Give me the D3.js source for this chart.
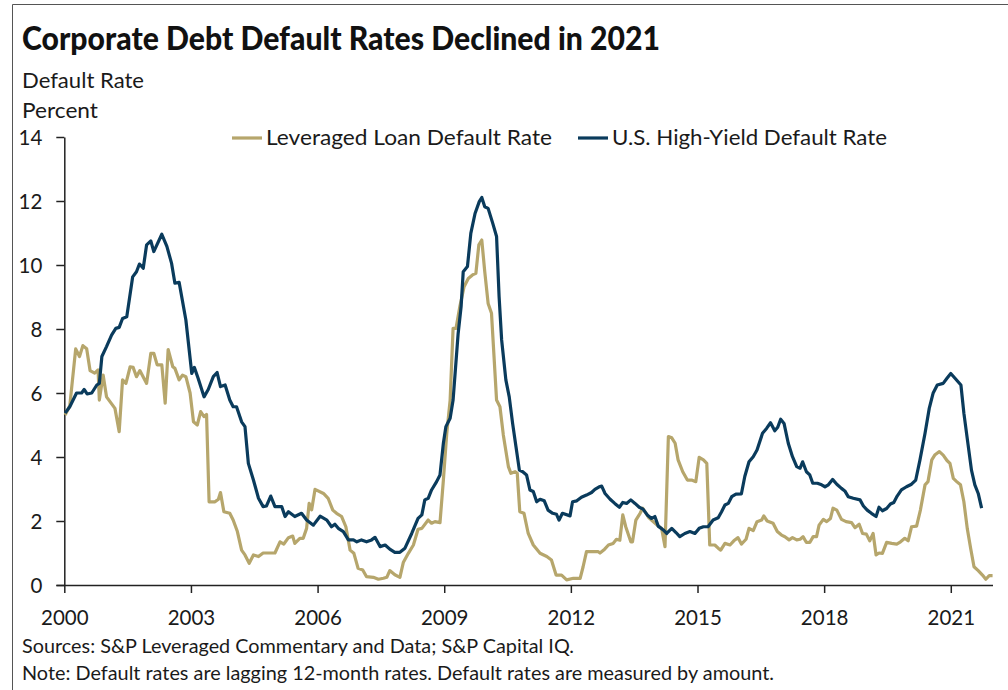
<!DOCTYPE html>
<html>
<head>
<meta charset="utf-8">
<script src="https://cdn.jsdelivr.net/npm/d3@7"></script>
<style>
  html, body { margin: 0; padding: 0; background: #fff; }
  svg { display: block; font-family: Lato, "Open Sans", sans-serif; }
</style>
</head>
<body>
<svg id="chart" width="1008" height="690"></svg>
<script>
// ---- data ----
const titleText = "Corporate Debt Default Rates Declined in 2021";
const yTitle1 = "Default Rate";
const yTitle2 = "Percent";
const seriesNames = ["Leveraged Loan Default Rate", "U.S. High-Yield Default Rate"];
const xTickYears = [2000, 2003, 2006, 2009, 2012, 2015, 2018, 2021];
const yTickValues = [0, 2, 4, 6, 8, 10, 12, 14];
const sourceNote = "Sources: S&P Leveraged Commentary and Data; S&P Capital IQ.";
const methodNote = "Note: Default rates are lagging 12-month rates. Default rates are measured by amount.";

// [decimal year, percent]
const leveragedLoan = [
  [2000.02,5.31],[2000.13,5.6],[2000.27,7.38],[2000.36,7.14],[2000.44,7.48],[2000.53,7.38],[2000.61,6.7],
  [2000.72,6.62],[2000.80,6.72],[2000.83,5.78],[2000.92,6.56],[2001.00,5.88],[2001.20,5.52],[2001.30,4.79],
  [2001.38,6.41],[2001.46,6.3],[2001.56,6.82],[2001.63,6.8],[2001.71,6.51],[2001.79,6.7],[2001.95,6.3],
  [2002.05,7.24],[2002.12,7.24],[2002.20,6.88],[2002.31,6.88],[2002.39,5.68],[2002.46,7.36],[2002.57,6.82],
  [2002.62,6.77],[2002.72,6.41],[2002.80,6.56],[2002.88,6.51],[2002.98,6.0],[2003.06,5.1],[2003.15,5.0],
  [2003.23,5.42],[2003.31,5.26],[2003.37,5.33],[2003.43,2.6],[2003.57,2.6],[2003.65,2.68],[2003.70,2.89],
  [2003.78,2.29],[2003.92,2.24],[2004.00,2.03],[2004.10,1.67],[2004.20,1.09],[2004.28,0.94],[2004.38,0.68],
  [2004.48,0.94],[2004.60,0.89],[2004.71,1.0],[2004.99,1.0],[2005.11,1.35],[2005.20,1.28],[2005.31,1.48],
  [2005.41,1.53],[2005.46,1.3],[2005.58,1.46],[2005.66,1.46],[2005.74,1.77],[2005.80,2.55],[2005.86,2.35],
  [2005.94,2.99],[2006.14,2.86],[2006.25,2.71],[2006.36,2.34],[2006.45,2.24],[2006.57,2.14],[2006.67,1.82],
  [2006.77,1.09],[2006.86,0.99],[2006.96,0.52],[2007.07,0.47],[2007.16,0.26],[2007.32,0.24],[2007.44,0.18],
  [2007.56,0.21],[2007.64,0.24],[2007.71,0.45],[2007.83,0.32],[2007.95,0.24],[2008.03,0.7],[2008.15,0.99],
  [2008.27,1.25],[2008.38,1.74],[2008.47,1.77],[2008.62,2.03],[2008.70,1.93],[2008.78,1.98],[2008.90,1.95],
  [2008.98,3.28],[2009.06,4.74],[2009.14,5.78],[2009.21,8.02],[2009.28,8.02],[2009.37,8.7],[2009.47,9.32],
  [2009.57,9.58],[2009.67,9.69],[2009.75,9.74],[2009.82,10.63],[2009.89,10.78],[2009.96,9.79],[2010.04,8.8],
  [2010.12,8.49],[2010.24,5.78],[2010.32,5.57],[2010.40,4.69],[2010.52,3.7],[2010.58,3.49],[2010.68,3.54],
  [2010.73,3.49],[2010.79,2.29],[2010.89,2.24],[2010.99,1.61],[2011.11,1.25],[2011.27,0.99],[2011.43,0.89],
  [2011.54,0.78],[2011.65,0.31],[2011.78,0.31],[2011.90,0.16],[2012.06,0.21],[2012.22,0.21],[2012.29,0.57],
  [2012.37,1.04],[2012.49,1.04],[2012.65,1.04],[2012.69,1.0],[2012.80,1.12],[2012.89,1.25],[2013.00,1.30],
  [2013.08,1.43],[2013.16,1.40],[2013.23,2.19],[2013.30,1.82],[2013.42,1.35],[2013.46,1.35],[2013.54,2.03],
  [2013.64,2.24],[2013.70,2.40],[2013.85,2.1],[2014.07,1.84],[2014.15,1.77],[2014.23,1.2],[2014.31,4.64],
  [2014.39,4.6],[2014.47,4.43],[2014.54,3.91],[2014.65,3.54],[2014.76,3.28],[2014.86,3.28],[2014.96,3.23],
  [2015.04,3.99],[2015.14,3.91],[2015.22,3.8],[2015.29,1.25],[2015.41,1.25],[2015.49,1.15],[2015.55,1.09],
  [2015.65,1.3],[2015.77,1.25],[2015.86,1.38],[2015.96,1.48],[2016.04,1.28],[2016.15,1.43],[2016.22,1.77],
  [2016.32,1.7],[2016.41,1.98],[2016.52,2.03],[2016.57,2.16],[2016.65,2.0],[2016.79,1.93],[2016.89,1.67],
  [2016.99,1.56],[2017.07,1.51],[2017.17,1.41],[2017.25,1.48],[2017.35,1.41],[2017.43,1.43],[2017.50,1.51],
  [2017.58,1.33],[2017.66,1.33],[2017.74,1.51],[2017.82,1.51],[2017.88,1.87],[2017.98,2.05],[2018.06,1.98],
  [2018.15,2.08],[2018.21,2.40],[2018.30,2.34],[2018.41,2.05],[2018.52,1.98],[2018.65,1.95],[2018.73,1.79],
  [2018.83,1.90],[2018.91,1.61],[2019.00,1.59],[2019.08,1.38],[2019.16,1.61],[2019.23,0.94],[2019.30,1.0],
  [2019.38,0.99],[2019.48,1.33],[2019.60,1.30],[2019.72,1.28],[2019.81,1.35],[2019.91,1.46],[2019.99,1.38],
  [2020.07,1.82],[2020.19,1.84],[2020.28,2.34],[2020.39,3.13],[2020.46,3.23],[2020.55,3.91],[2020.62,4.06],
  [2020.73,4.17],[2020.82,4.06],[2020.91,3.89],[2020.98,3.80],[2021.06,3.33],[2021.14,3.23],[2021.23,3.13],
  [2021.31,2.60],[2021.39,1.77],[2021.47,1.15],[2021.55,0.57],[2021.65,0.45],[2021.75,0.31],[2021.83,0.18],
  [2021.91,0.29],[2021.99,0.29]
];

const highYield = [
  [2000.02,5.37],[2000.13,5.57],[2000.29,6.0],[2000.41,6.0],[2000.47,6.11],[2000.54,5.97],[2000.65,6.0],
  [2000.77,6.25],[2000.83,6.3],[2000.89,7.14],[2001.00,7.45],[2001.12,7.81],[2001.22,8.02],[2001.30,8.05],
  [2001.38,8.33],[2001.48,8.38],[2001.62,9.63],[2001.71,9.79],[2001.78,10.03],[2001.87,9.9],[2001.95,10.63],
  [2002.05,10.75],[2002.12,10.42],[2002.31,10.96],[2002.43,10.58],[2002.54,10.06],[2002.62,9.43],[2002.72,9.46],
  [2002.88,8.28],[2003.02,6.61],[2003.08,6.8],[2003.17,6.46],[2003.31,5.88],[2003.41,6.11],[2003.53,6.51],
  [2003.62,6.64],[2003.70,6.2],[2003.81,6.25],[2003.92,5.78],[2004.00,5.57],[2004.08,5.57],[2004.20,5.1],
  [2004.28,4.95],[2004.36,3.8],[2004.48,3.28],[2004.60,2.71],[2004.71,2.45],[2004.79,2.47],[2004.89,2.78],
  [2004.99,2.45],[2005.15,2.45],[2005.23,2.14],[2005.31,2.29],[2005.46,2.14],[2005.62,2.24],[2005.74,2.03],
  [2005.90,1.87],[2006.06,2.15],[2006.22,2.03],[2006.33,1.82],[2006.41,1.9],[2006.49,1.77],[2006.61,1.67],
  [2006.73,1.41],[2006.85,1.41],[2006.93,1.35],[2007.04,1.41],[2007.16,1.35],[2007.28,1.41],[2007.36,1.49],
  [2007.48,1.2],[2007.60,1.25],[2007.71,1.12],[2007.83,1.02],[2007.95,1.02],[2008.07,1.15],[2008.23,1.61],
  [2008.38,2.08],[2008.47,2.19],[2008.54,2.66],[2008.62,2.71],[2008.70,2.97],[2008.82,3.23],[2008.90,3.44],
  [2008.98,4.43],[2009.04,4.95],[2009.14,5.21],[2009.21,5.78],[2009.33,7.86],[2009.40,8.7],[2009.45,9.79],
  [2009.55,9.95],[2009.63,10.99],[2009.73,11.61],[2009.83,11.98],[2009.89,12.11],[2009.96,11.82],[2010.04,11.77],
  [2010.15,11.3],[2010.24,10.89],[2010.30,9.01],[2010.36,7.66],[2010.46,6.41],[2010.54,5.88],[2010.62,5.05],
  [2010.70,4.32],[2010.78,3.59],[2010.86,3.54],[2010.95,3.44],[2011.03,2.97],[2011.11,2.92],[2011.19,2.6],
  [2011.27,2.68],[2011.37,2.63],[2011.46,2.34],[2011.57,2.24],[2011.66,2.21],[2011.72,2.03],[2011.80,2.24],
  [2011.98,2.16],[2012.04,2.6],[2012.14,2.63],[2012.25,2.74],[2012.37,2.81],[2012.49,2.89],[2012.57,2.99],
  [2012.67,3.07],[2012.73,3.09],[2012.81,2.86],[2012.93,2.68],[2013.04,2.55],[2013.15,2.43],[2013.23,2.58],
  [2013.32,2.55],[2013.42,2.66],[2013.52,2.55],[2013.62,2.43],[2013.71,2.37],[2013.81,2.19],[2013.91,2.08],
  [2013.99,2.14],[2014.07,1.84],[2014.19,1.72],[2014.27,1.61],[2014.39,1.77],[2014.49,1.64],[2014.58,1.51],
  [2014.70,1.61],[2014.82,1.67],[2014.94,1.61],[2015.04,1.77],[2015.14,1.82],[2015.25,1.82],[2015.37,2.03],
  [2015.49,2.1],[2015.57,2.29],[2015.65,2.5],[2015.73,2.55],[2015.81,2.76],[2015.91,2.84],[2016.04,2.85],
  [2016.12,3.39],[2016.22,3.85],[2016.32,4.01],[2016.41,4.22],[2016.54,4.74],[2016.64,4.9],[2016.73,5.07],
  [2016.83,4.82],[2016.90,4.93],[2016.97,5.18],[2017.05,5.05],[2017.15,4.43],[2017.25,4.01],[2017.35,3.7],
  [2017.43,3.65],[2017.49,3.85],[2017.58,3.54],[2017.66,3.44],[2017.73,3.18],[2017.84,3.18],[2017.94,3.13],
  [2018.02,3.07],[2018.10,3.13],[2018.20,3.3],[2018.30,3.15],[2018.41,3.02],[2018.49,2.94],[2018.57,2.76],
  [2018.69,2.71],[2018.85,2.66],[2018.93,2.47],[2019.02,2.34],[2019.12,2.24],[2019.23,2.14],[2019.30,2.43],
  [2019.38,2.32],[2019.48,2.39],[2019.57,2.53],[2019.65,2.58],[2019.73,2.78],[2019.83,2.97],[2019.95,3.07],
  [2020.07,3.15],[2020.17,3.28],[2020.27,3.91],[2020.39,4.74],[2020.49,5.52],[2020.58,5.99],[2020.68,6.25],
  [2020.82,6.3],[2020.91,6.46],[2021.00,6.61],[2021.10,6.46],[2021.24,6.25],[2021.31,5.37],[2021.41,4.38],
  [2021.49,3.59],[2021.57,3.13],[2021.65,2.86],[2021.73,2.4]
];

// ---- drawing ----
const svg = d3.select("#chart");
const colors = ["#b6a66c", "#0a3b5c"];
const axisColor = "#222";
const textColor = "#1a1a1a";

const x = d3.scaleLinear().domain([2000, 2022]).range([64.3, 993]);
const y = d3.scaleLinear().domain([0, 14]).range([585, 137]);

// frame lines (top & left)
svg.append("line").attr("x1", 12.5).attr("x2", 1008).attr("y1", 4.5).attr("y2", 4.5)
  .attr("stroke", "#555").attr("stroke-width", 1);
svg.append("line").attr("x1", 12.5).attr("x2", 12.5).attr("y1", 4.5).attr("y2", 690)
  .attr("stroke", "#555").attr("stroke-width", 1);

// title
svg.append("text").attr("x", 22).attr("y", 50)
  .attr("font-size", 32).attr("font-weight", 900).attr("fill", "#111")
  .attr("textLength", 638).attr("lengthAdjust", "spacingAndGlyphs")
  .text(titleText);

svg.append("text").attr("x", 22).attr("y", 88).attr("font-size", 22).attr("fill", textColor)
  .attr("textLength", 122).attr("lengthAdjust", "spacingAndGlyphs").text(yTitle1);
svg.append("text").attr("x", 22).attr("y", 117.5).attr("font-size", 22).attr("fill", textColor)
  .attr("textLength", 76).attr("lengthAdjust", "spacingAndGlyphs").text(yTitle2);

// axes
const xAxis = d3.axisBottom(x).tickValues(xTickYears).tickFormat(d3.format("d")).tickSize(8).tickSizeOuter(0);
const gx = svg.append("g").attr("transform", "translate(0,585)").call(xAxis);
gx.select(".domain").attr("stroke", axisColor).attr("stroke-width", 1.5).attr("d", "M56.5,0.5H993");
gx.selectAll(".tick line").attr("stroke", axisColor).attr("stroke-width", 1.5);
gx.selectAll(".tick text").attr("y", 40).attr("dy", 0).attr("font-size", 20.5)
  .attr("font-family", "Lato, 'Open Sans', sans-serif").attr("fill", textColor);

const yAxis = d3.axisLeft(y).tickValues(yTickValues).tickSize(8).tickSizeOuter(0).tickPadding(14);
const gy = svg.append("g").attr("transform", "translate(64.3,0)").call(yAxis);
gy.select(".domain").attr("stroke", axisColor).attr("stroke-width", 1.5);
gy.selectAll(".tick line").attr("stroke", axisColor).attr("stroke-width", 1.5);
gy.selectAll(".tick text").attr("font-size", 20.5).attr("dy", "0.36em")
  .attr("font-family", "Lato, 'Open Sans', sans-serif").attr("fill", textColor);

// lines
const line = d3.line().x(d => x(d[0])).y(d => y(d[1]));
[leveragedLoan, highYield].forEach((s, i) => {
  svg.append("path").datum(s).attr("d", line)
    .attr("fill", "none").attr("stroke", colors[i]).attr("stroke-width", 3.2)
    .attr("stroke-linejoin", "round").attr("stroke-linecap", "butt");
});

// legend
const legendItems = [
  { name: seriesNames[0], color: colors[0], x0: 232, len: 286 },
  { name: seriesNames[1], color: colors[1], x0: 578, len: 275 }
];
legendItems.forEach(it => {
  svg.append("line").attr("x1", it.x0).attr("x2", it.x0 + 30).attr("y1", 138).attr("y2", 138)
    .attr("stroke", it.color).attr("stroke-width", 3.2);
  svg.append("text").attr("x", it.x0 + 34).attr("y", 145).attr("font-size", 21).attr("fill", textColor)
    .attr("textLength", it.len).attr("lengthAdjust", "spacingAndGlyphs").text(it.name);
});

// notes
svg.append("text").attr("x", 22).attr("y", 653).attr("font-size", 19).attr("fill", textColor)
  .attr("textLength", 552).attr("lengthAdjust", "spacingAndGlyphs").text(sourceNote);
svg.append("text").attr("x", 22).attr("y", 680).attr("font-size", 19).attr("fill", textColor)
  .attr("textLength", 752).attr("lengthAdjust", "spacingAndGlyphs").text(methodNote);
</script>
</body>
</html>
